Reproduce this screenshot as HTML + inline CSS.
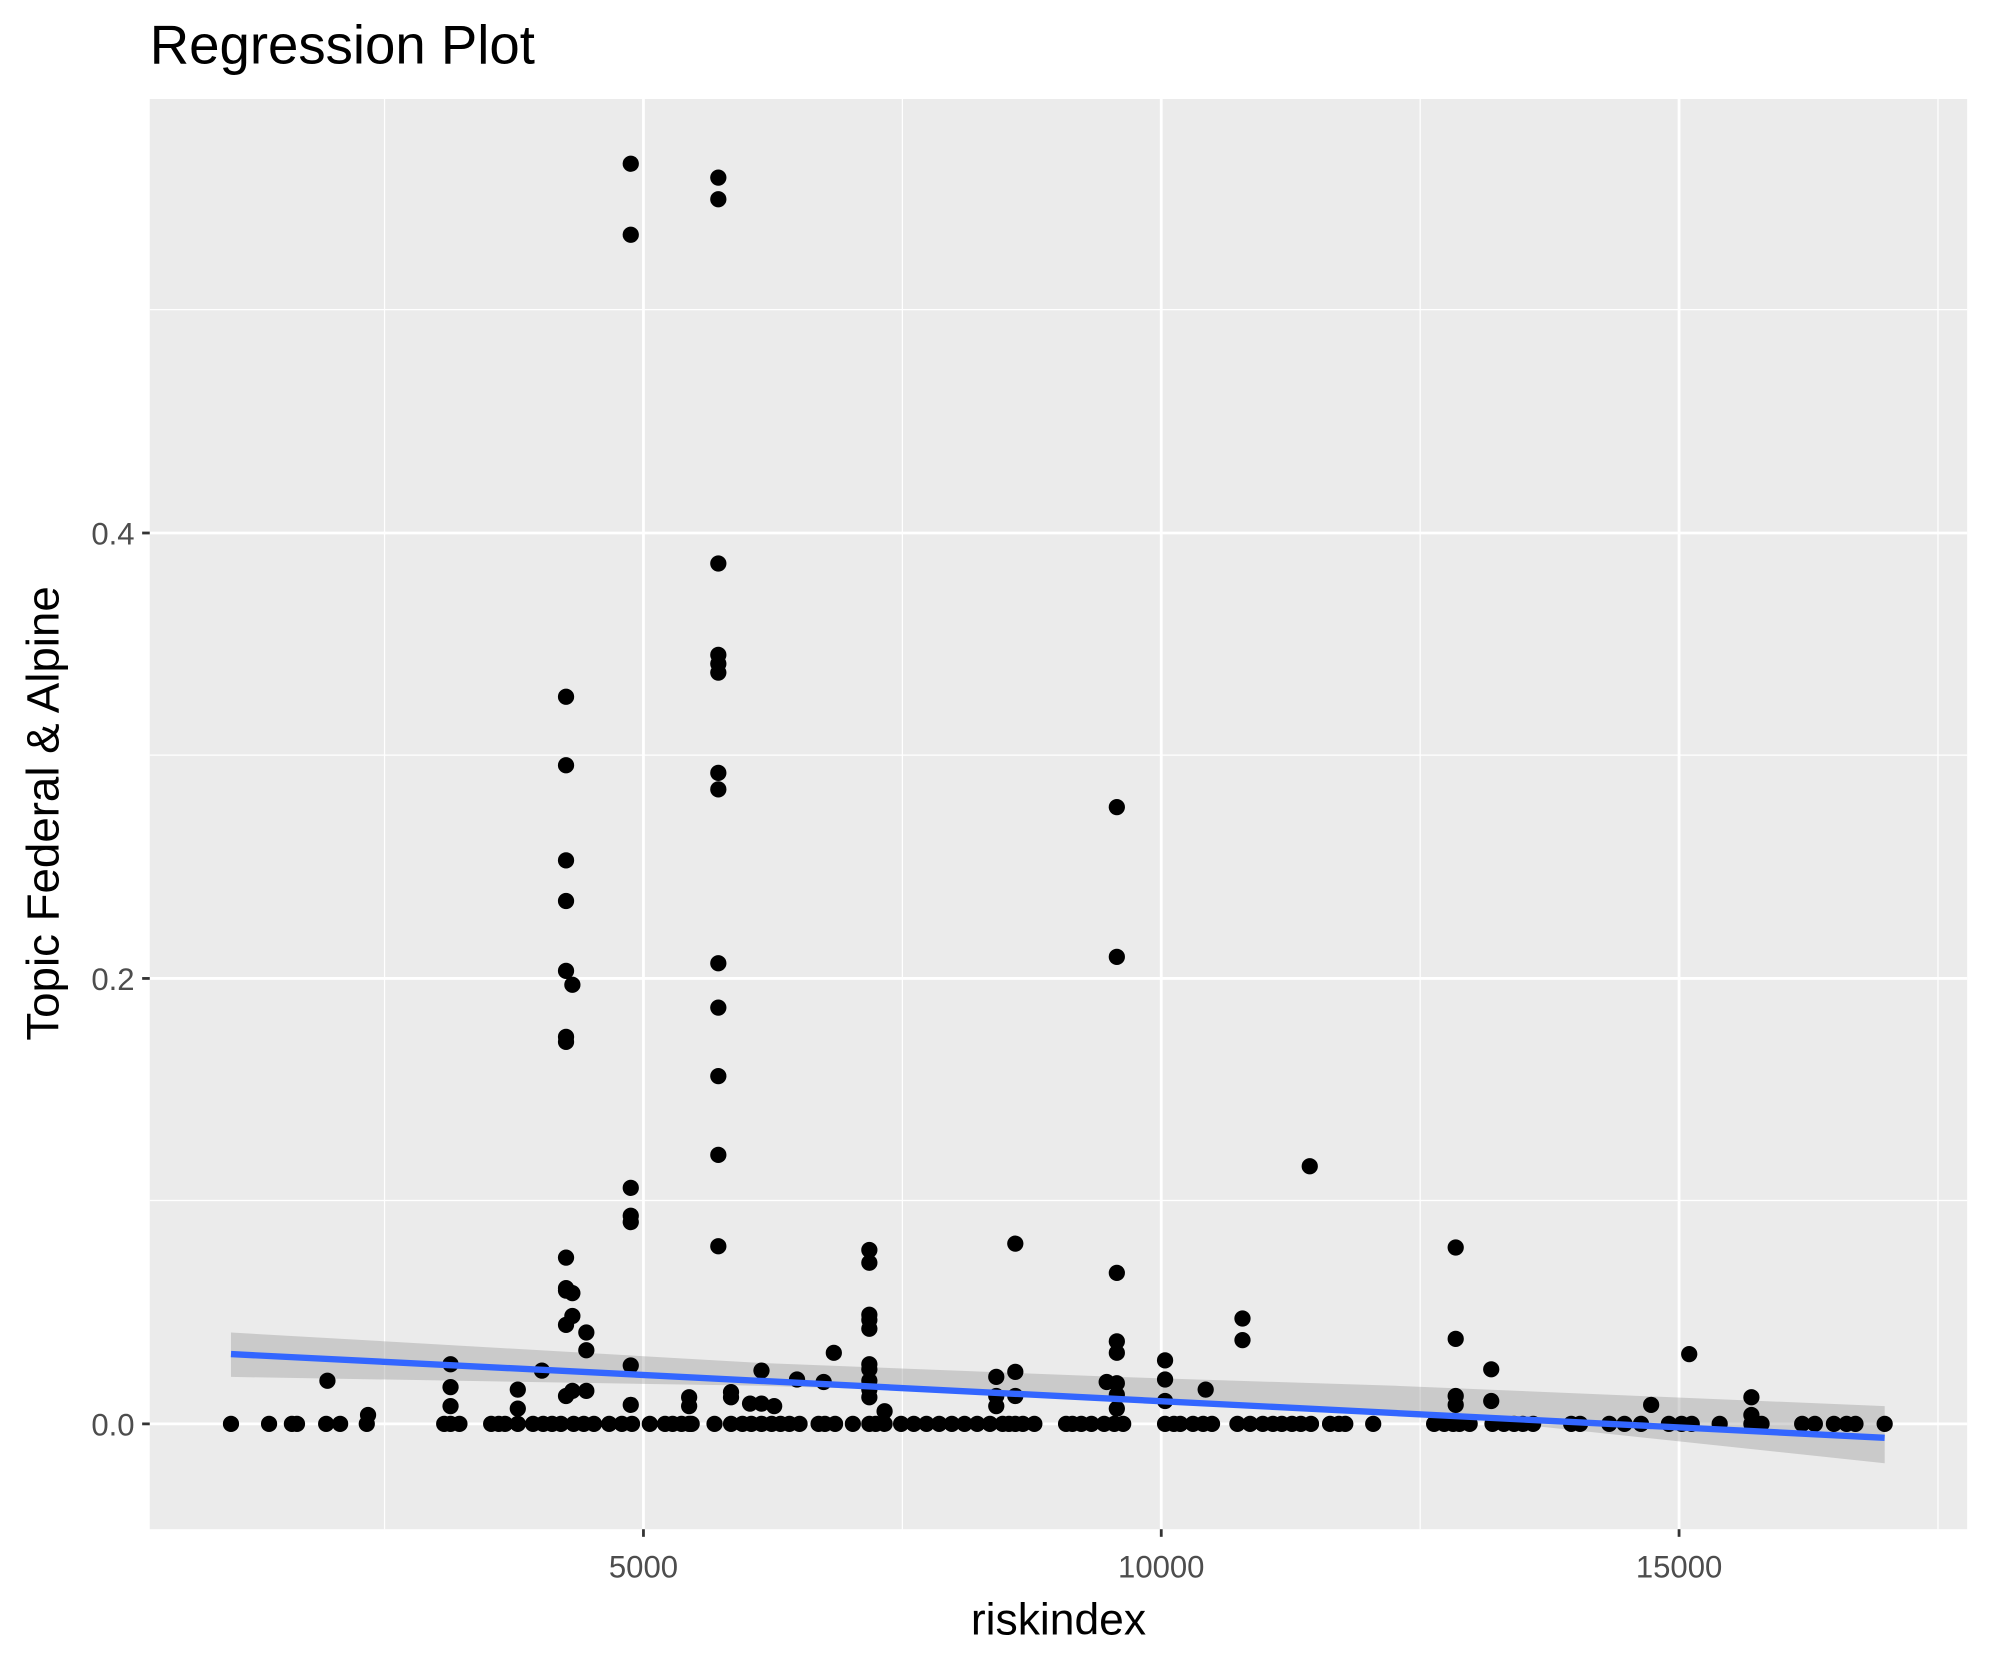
<!DOCTYPE html>
<html><head><meta charset="utf-8"><style>html,body{margin:0;padding:0;background:#fff}svg{display:block}</style></head>
<body>
<svg width="1990" height="1665" viewBox="0 0 1568 1312" preserveAspectRatio="none" xmlns="http://www.w3.org/2000/svg" font-family="Liberation Sans, sans-serif">
<rect width="1568" height="1312" fill="#fff"/>
<text x="118" y="50" font-size="43" fill="#000">Regression Plot</text>
<rect x="118" y="78" width="1432" height="1127" fill="#ebebeb"/>
<g stroke="#fff" stroke-width="1">
<line x1="118" x2="1550" y1="946" y2="946"/><line x1="118" x2="1550" y1="595" y2="595"/><line x1="118" x2="1550" y1="244" y2="244"/>
<line x1="303" x2="303" y1="78" y2="1205"/><line x1="711" x2="711" y1="78" y2="1205"/><line x1="1119" x2="1119" y1="78" y2="1205"/><line x1="1527" x2="1527" y1="78" y2="1205"/>
</g>
<g stroke="#fff" stroke-width="2.2">
<line x1="118" x2="1550" y1="1122" y2="1122"/><line x1="118" x2="1550" y1="771" y2="771"/><line x1="118" x2="1550" y1="420" y2="420"/>
<line x1="507" x2="507" y1="78" y2="1205"/><line x1="915" x2="915" y1="78" y2="1205"/><line x1="1323" x2="1323" y1="78" y2="1205"/>
</g>
<path d="M182,1050 L600,1074 L880,1085 L1100,1092 L1485,1108 L1485,1153 L1100,1112 L880,1100 L600,1092 L182,1085 Z" fill="#999" fill-opacity="0.4"/>
<g fill="#000" id="pts">
</g>
<line x1="182" y1="1067" x2="1485" y2="1133" stroke="#3366ff" stroke-width="5"/>
<g stroke="#333" stroke-width="2.2">
<line x1="112" x2="118" y1="1122" y2="1122"/><line x1="112" x2="118" y1="771" y2="771"/><line x1="112" x2="118" y1="420" y2="420"/>
<line x1="507" x2="507" y1="1205" y2="1211"/><line x1="915" x2="915" y1="1205" y2="1211"/><line x1="1323" x2="1323" y1="1205" y2="1211"/>
</g>
<g font-size="24.5" fill="#4d4d4d">
<text x="106" y="1131" text-anchor="end">0.0</text><text x="106" y="780" text-anchor="end">0.2</text><text x="106" y="429" text-anchor="end">0.4</text>
<text x="507" y="1243" text-anchor="middle">5000</text><text x="915" y="1243" text-anchor="middle">10000</text><text x="1323" y="1243" text-anchor="middle">15000</text>
</g>
<text x="834" y="1288" font-size="35" text-anchor="middle" fill="#000">riskindex</text>
<text transform="translate(46,641) rotate(-90)" font-size="36" text-anchor="middle" fill="#000">Topic Federal &amp; Alpine</text>
<script>
var g=document.getElementById('pts'),ns='http://www.w3.org/2000/svg';
var base=[182,212,230,234,257,268,289,350,355,362,387,393,398,408,420,428,435,442,452,460,468,480,490,498,512,524,530,537,543,545,563,576,585,592,600,608,615,622,630,645,650,658,672,685,690,697,710,720,730,740,750,760,770,780,790,795,800,806,815,840,845,852,860,870,878,885,918,925,930,940,948,955,975,985,995,1003,1010,1018,1025,1033,1048,1055,1060,1082,1130,1138,1145,1150,1158,1176,1185,1193,1200,1208,1238,1245,1268,1280,1293,1315,1325,1333,1355,1380,1388,1420,1430,1445,1455,1462,1485];
var el={497:[129,185,936,958,963,1076,1107],566:[140,157,444,516,523,530,609,622,759,794,848,910,982],446:[549,603,678,710,765,817,821,991,1015,1017,1044,1100],451:[776,1037,1019,1096],462:[1050,1064,1096],258:[1088],290:[1115],355:[1075,1093,1108],408:[1095,1110],427:[1080],543:[1101,1108],576:[1097,1101],591:[1106],600:[1080,1106],610:[1108],628:[1087],649:[1089],657:[1066],685:[985,995,1036,1040,1047,1075,1079,1088,1095,1101],697:[1112],785:[1085,1100,1108],800:[1081,980,1100],880:[636,754,1003,1057,1066,1090,1099,1110],872:[1089],918:[1072,1087,1104],950:[1095],979:[1039,1056],1032:[919],1147:[983,1055,1100,1107],1175:[1079,1104],1301:[1107],1331:[1067],1380:[1101,1115]};
function c(x,y){var e=document.createElementNS(ns,'circle');e.setAttribute('cx',x);e.setAttribute('cy',y);e.setAttribute('r',6.4);g.appendChild(e);}
base.forEach(function(x){c(x,1122);});
for(var k in el)el[k].forEach(function(y){c(+k,y);});
</script>
</svg>
</body></html>
